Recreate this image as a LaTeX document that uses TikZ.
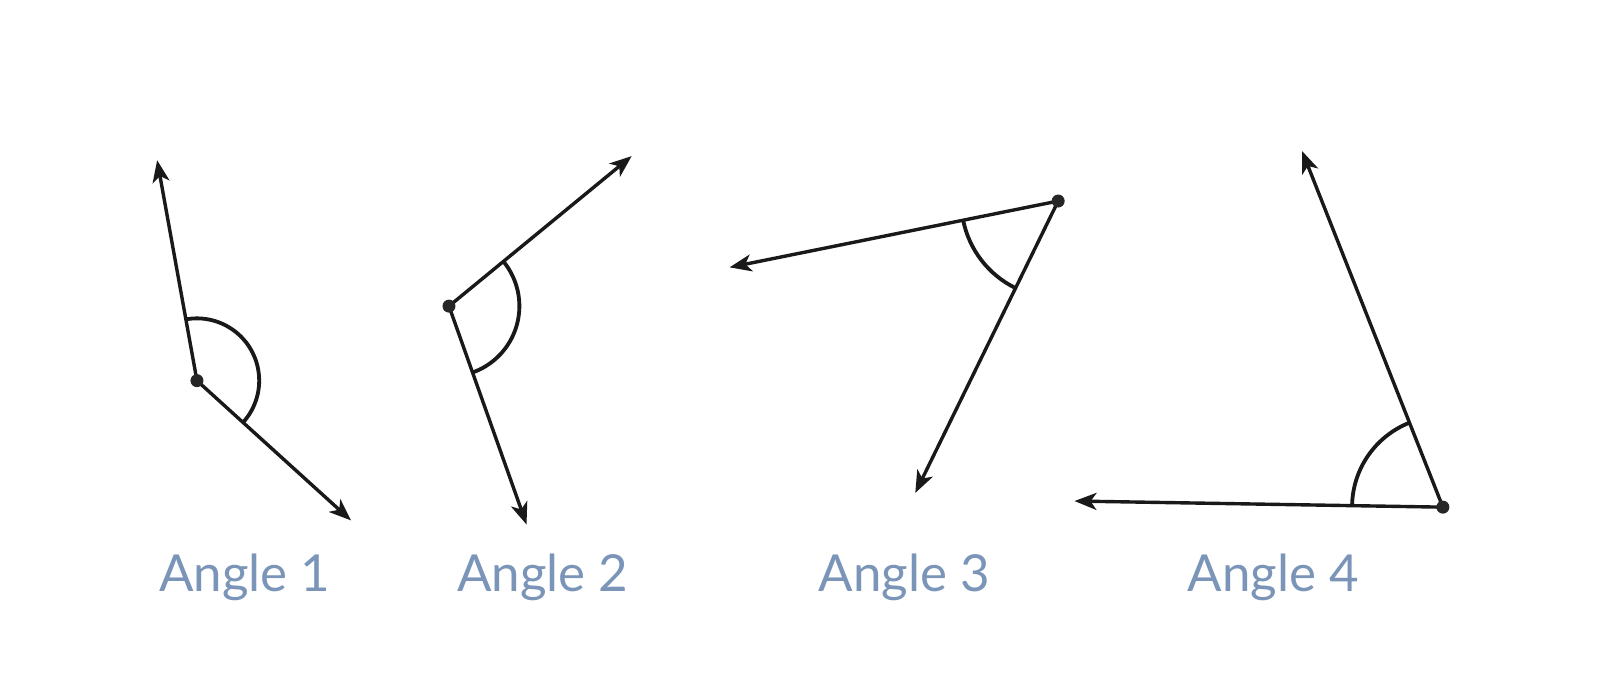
\documentclass[tikz,border=0pt]{standalone}
\usepackage{fontspec}
\setmainfont{Lato}
\usetikzlibrary{arrows.meta}
\definecolor{lbl}{HTML}{7B95B9}
\begin{document}
\begin{tikzpicture}[x=0.5102pt,y=-0.5102pt,
  ray/.style={line width=1.7pt,draw=black!90,-{Stealth[length=11pt,width=8.5pt,inset=3pt]}},
  arcline/.style={line width=1.9pt,draw=black!90},
  vdot/.style={circle,fill=black!85,inner sep=0pt,minimum size=6.5pt},
  lab/.style={text=lbl,font=\fontsize{25.5}{30}\selectfont,anchor=base}]
\useasboundingbox (0,0) rectangle (1568,658.56);
\fill[white] (0,0) rectangle (1568,658.56);
% Angle 1
\coordinate (v1) at (193,373);
\coordinate (a1) at (154,157);
\coordinate (b1) at (344,510);
\draw[ray] (v1) -- (a1);
\draw[ray] (v1) -- (b1);
\draw[arcline] (v1) ++(-100.2:61) arc[start angle=-100.2,end angle=42.2,radius=61];
\node[vdot] (d1) at (v1) {};
% Angle 2
\coordinate (v2) at (440,300);
\coordinate (a2) at (619,153);
\coordinate (b2) at (516,514);
\draw[ray] (v2) -- (a2);
\draw[ray] (v2) -- (b2);
\draw[arcline] (v2) ++(-39.4:69) arc[start angle=-39.4,end angle=70.4,radius=69];
\node[vdot] (d2) at (v2) {};
% Angle 3
\coordinate (v3) at (1037,197);
\coordinate (a3) at (715,262);
\coordinate (b3) at (897,483);
\draw[ray] (v3) -- (a3);
\draw[ray] (v3) -- (b3);
\draw[arcline] (v3) ++(-191.4:95) arc[start angle=-191.4,end angle=-243.9,radius=95];
\node[vdot] (d3) at (v3) {};
% Angle 4
\coordinate (v4) at (1414,497);
\coordinate (a4) at (1276,148);
\coordinate (b4) at (1053,491);
\draw[ray] (v4) -- (a4);
\draw[ray] (v4) -- (b4);
\draw[arcline] (v4) ++(-111.6:89) arc[start angle=-111.6,end angle=-179,radius=89];
\node[vdot] (d4) at (v4) {};
% labels
\node[lab] (l1) at (240,580) {Angle 1};
\node[lab] (l2) at (532,580) {Angle 2};
\node[lab] (l3) at (886,580) {Angle 3};
\node[lab] (l4) at (1248,580) {Angle 4};
\end{tikzpicture}
\end{document}
